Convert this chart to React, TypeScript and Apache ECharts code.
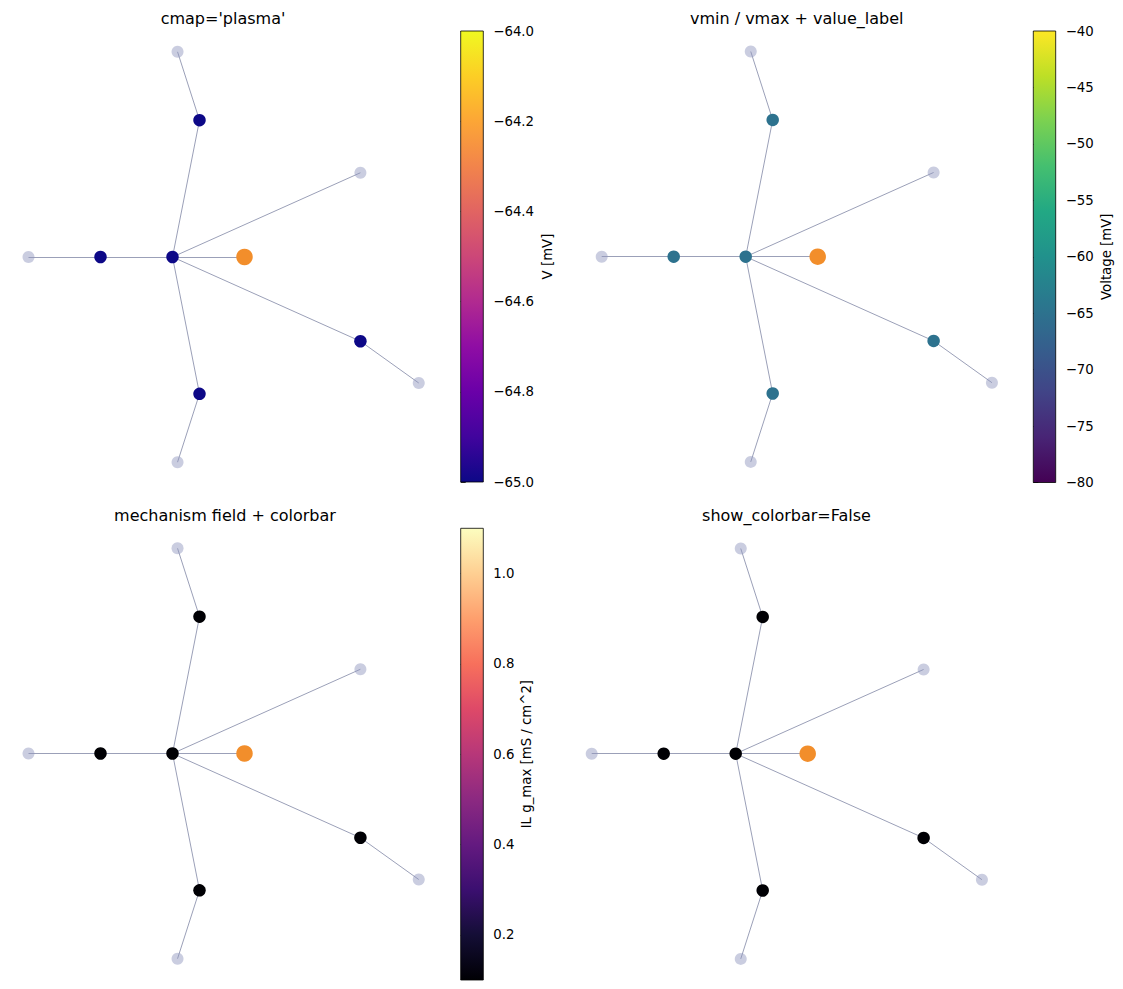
import React, { useEffect, useRef } from "react";
import * as echarts from "echarts";

// ---- data ----
const NODE_X = [0, -1, -2, 1, 0.375, 0.07, 2.61, 2.61, 3.42, 0.375, 0.07];
const NODE_Y = [0, 0, 0, 0, 1.9, 2.85, 1.17, -1.17, -1.75, -1.9, -2.85];
const NODE_KIND = ["rec", "rec", "free", "stim", "rec", "free", "free", "rec", "free", "rec", "free"];
const EDGE_SRC = [0, 1, 0, 0, 4, 0, 0, 7, 0, 9];
const EDGE_DST = [1, 2, 3, 4, 5, 6, 7, 8, 9, 10];

const V_PLASMA = [-65, -65, null, null, -65, null, null, -65, null, -65, null];
const V_VIRIDIS = [-65, -65, null, null, -65, null, null, -65, null, -65, null];
const G_MAGMA = [0.1, 0.1, null, null, 0.1, null, null, 0.1, null, 0.1, null];
const G_NOBAR = [0.1, 0.1, null, null, 0.1, null, null, 0.1, null, 0.1, null];

const TITLES = ["cmap='plasma'", "vmin / vmax + value_label", "mechanism field + colorbar", "show_colorbar=False"];
const CBAR_LABELS = ["V [mV]", "Voltage [mV]", "IL g_max [mS / cm^2]"];
const CBAR_RANGES = [[-65, -64], [-80, -40], [0.1, 1.1]];
const CBAR_TICKS = [
  [-65, -64.8, -64.6, -64.4, -64.2, -64],
  [-80, -75, -70, -65, -60, -55, -50, -45, -40],
  [0.2, 0.4, 0.6, 0.8, 1.0],
];
const CBAR_DECIMALS = [1, 0, 1];

const PLASMA = ["#0d0887", "#41049d", "#6a00a8", "#8f0da4", "#b12a90", "#cc4778", "#e16462", "#f2844b", "#fca636", "#fcce25", "#f0f921"];
const VIRIDIS = ["#440154", "#482475", "#414487", "#355f8d", "#2a788e", "#21918c", "#22a884", "#44bf70", "#7ad151", "#bddf26", "#fde725"];
const MAGMA = ["#000004", "#140e36", "#3b0f70", "#641a80", "#8c2981", "#b73779", "#de4968", "#f7705c", "#fe9f6d", "#fecf92", "#fcfdbf"];

// ---- layout ----
const FONT = "DejaVu Sans";
const PANEL_CENTER = [[172.5, 257], [745.7, 256.7], [172.5, 753.5], [735.7, 753.7]];
const TITLE_X = [223, 796.7, 225, 786.5];
const TITLE_TOP = [10, 10, 507, 507];
const PX_PER_UNIT = 72;
const X_RANGE = [-2.3, 3.7];
const Y_RANGE = [-3, 3];
const CBAR_BOX = [[460.7, 31, 22.6, 451], [1033.3, 31, 22.4, 451.5], [460.7, 528.3, 22.6, 451.7]];
const CBAR_NAMEGAP = [58, 44, 37];

function hexToRgb(h: string) {
  const n = parseInt(h.slice(1), 16);
  return [(n >> 16) & 255, (n >> 8) & 255, n & 255];
}
function cmapColor(stops: string[], t: number) {
  const tt = Math.max(0, Math.min(1, t)) * (stops.length - 1);
  const i = Math.min(stops.length - 2, Math.floor(tt));
  const f = tt - i;
  const a = hexToRgb(stops[i]);
  const b = hexToRgb(stops[i + 1]);
  const c = a.map((v, k) => Math.round(v + (b[k] - v) * f));
  return `rgb(${c[0]},${c[1]},${c[2]})`;
}

const PANEL_VALUES = [V_PLASMA, V_VIRIDIS, G_MAGMA, G_NOBAR];
const PANEL_CMAPS = [PLASMA, VIRIDIS, MAGMA, MAGMA];
const PANEL_RANGES = [CBAR_RANGES[0], CBAR_RANGES[1], CBAR_RANGES[2], CBAR_RANGES[2]];

function buildOption() {
  const grid: any[] = [];
  const xAxis: any[] = [];
  const yAxis: any[] = [];
  const series: any[] = [];
  const title: any[] = [];

  for (let p = 0; p < 4; p++) {
    const [cx, cy] = PANEL_CENTER[p];
    grid.push({
      left: cx + X_RANGE[0] * PX_PER_UNIT,
      top: cy - Y_RANGE[1] * PX_PER_UNIT,
      width: (X_RANGE[1] - X_RANGE[0]) * PX_PER_UNIT,
      height: (Y_RANGE[1] - Y_RANGE[0]) * PX_PER_UNIT,
      containLabel: false,
    });
    xAxis.push({ gridIndex: p, type: "value", min: X_RANGE[0], max: X_RANGE[1], show: false });
    yAxis.push({ gridIndex: p, type: "value", min: Y_RANGE[0], max: Y_RANGE[1], show: false });
    const vals = PANEL_VALUES[p];
    const [lo, hi] = PANEL_RANGES[p];
    const data = NODE_X.map((x, i) => {
      const kind = NODE_KIND[i];
      let color = "rgba(145,150,190,0.48)";
      let size = 12;
      if (kind === "stim") {
        color = "#f28e2b";
        size = 16.5;
      } else if (kind === "rec") {
        color = cmapColor(PANEL_CMAPS[p], ((vals[i] as number) - lo) / (hi - lo));
        size = 12.5;
      }
      return { name: `n${i}`, value: [x, NODE_Y[i]], symbolSize: size, itemStyle: { color } };
    });
    const links = EDGE_SRC.map((s, k) => ({ source: s, target: EDGE_DST[k] }));
    series.push({
      type: "graph",
      coordinateSystem: "cartesian2d",
      xAxisIndex: p,
      yAxisIndex: p,
      layout: "none",
      symbol: "circle",
      data,
      links,
      lineStyle: { color: "#9ba0b8", width: 1, opacity: 1, curveness: 0 },
      label: { show: false },
      emphasis: { disabled: true },
      silent: true,
    });
    title.push({
      text: TITLES[p],
      left: TITLE_X[p],
      top: TITLE_TOP[p],
      padding: 0,
      textAlign: "center",
      textStyle: { fontFamily: FONT, fontSize: 16, fontWeight: "normal", color: "#000" },
    });
  }

  for (let c = 0; c < 3; c++) {
    const gi = 4 + c;
    const [l, t, w, h] = CBAR_BOX[c];
    const [lo, hi] = CBAR_RANGES[c];
    const cmap = PANEL_CMAPS[c];
    const dec = CBAR_DECIMALS[c];
    grid.push({ left: l, top: t, width: w, height: h, containLabel: false });
    xAxis.push({ gridIndex: gi, type: "value", min: 0, max: 1, show: false });
    yAxis.push({
      gridIndex: gi,
      type: "value",
      position: "right",
      min: lo,
      max: hi,
      axisLine: { show: false },
      splitLine: { show: false },
      axisTick: { show: true, inside: false, length: 5, customValues: CBAR_TICKS[c], lineStyle: { color: "#000", width: 0.8 } },
      axisLabel: {
        show: true,
        margin: 10,
        customValues: CBAR_TICKS[c],
        color: "#000",
        fontFamily: FONT,
        fontSize: 13.3,
        formatter: (v: number) => (v < 0 ? "\u2212" : "") + Math.abs(v).toFixed(dec),
      },
      name: CBAR_LABELS[c],
      nameLocation: "middle",
      nameRotate: 90,
      nameGap: CBAR_NAMEGAP[c],
      nameTextStyle: { fontFamily: FONT, fontSize: 13.3, color: "#000" },
    });
    const stops = cmap.map((col, k) => ({ offset: k / (cmap.length - 1), color: col }));
    series.push({
      type: "custom",
      xAxisIndex: gi,
      yAxisIndex: gi,
      silent: true,
      data: [[0, lo]],
      renderItem: (_params: any, api: any) => {
        const p0 = api.coord([0, hi]);
        const p1 = api.coord([1, lo]);
        return {
          type: "rect",
          shape: { x: p0[0], y: p0[1], width: p1[0] - p0[0], height: p1[1] - p0[1] },
          style: {
            fill: new echarts.graphic.LinearGradient(0, 1, 0, 0, stops),
            stroke: "#000",
            lineWidth: 0.8,
          },
        };
      },
    });
  }

  return {
    animation: false,
    backgroundColor: "#fff",
    title,
    grid,
    xAxis,
    yAxis,
    series,
  };
}

export default function App() {
  const ref = useRef<HTMLDivElement>(null);
  useEffect(() => {
    if (!ref.current) return;
    const chart = echarts.init(ref.current, undefined, { renderer: "svg" });
    chart.setOption(buildOption() as any);
    return () => chart.dispose();
  }, []);
  return (
    <div
      ref={ref}
      style={{ position: "fixed", left: 0, top: 0, width: 1123, height: 989, background: "#fff" }}
    />
  );
}
